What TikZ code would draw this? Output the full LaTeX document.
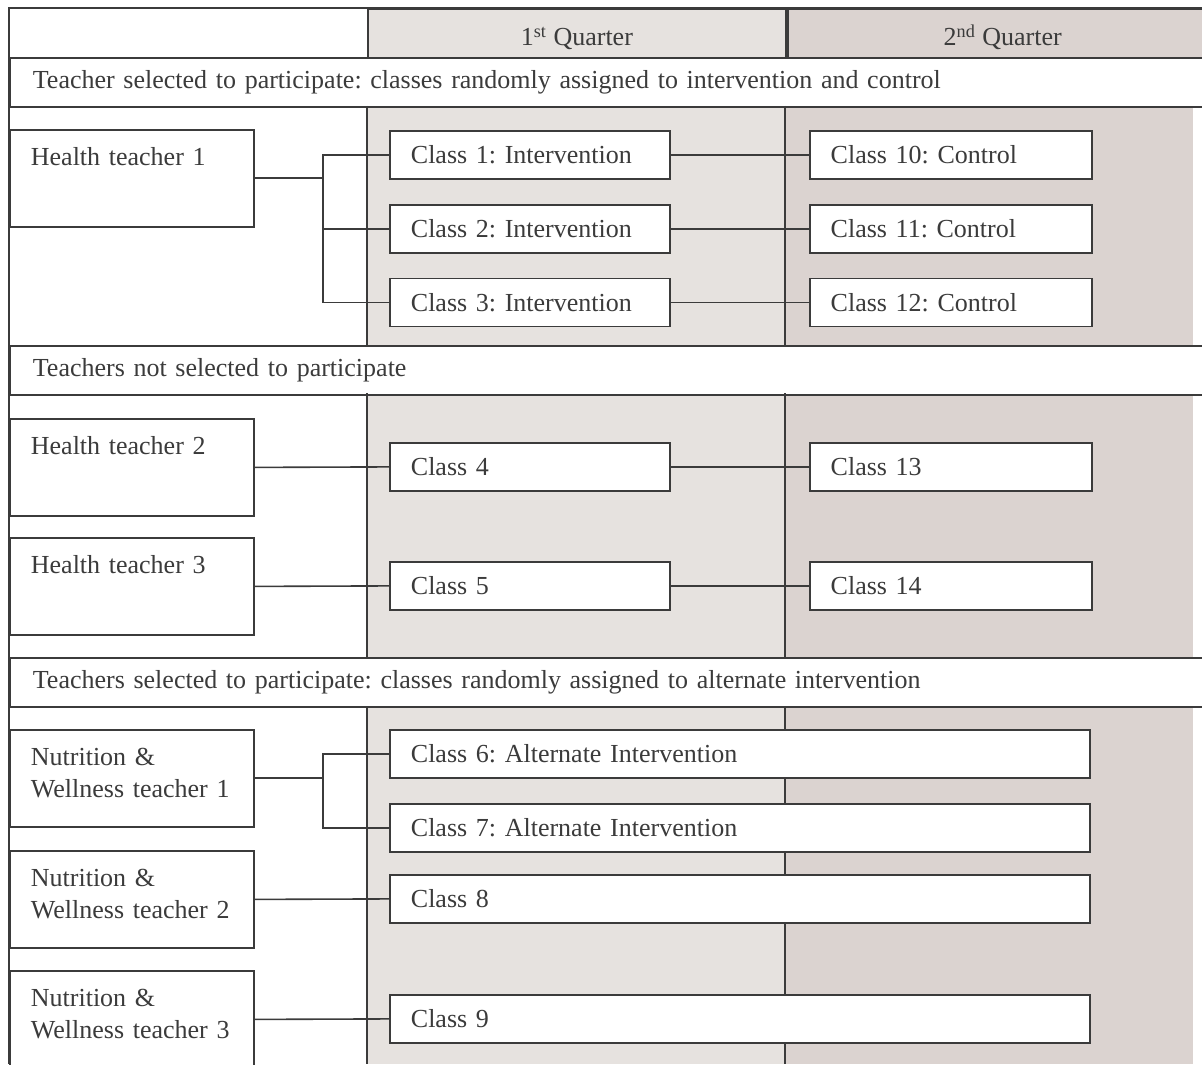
\documentclass[tikz,border=0pt]{standalone}
\usepackage{fontspec}
\setmainfont{Liberation Serif}
\frenchspacing
\usetikzlibrary{positioning,calc}
\definecolor{ink}{HTML}{3B3B3B}
\definecolor{quarterA}{HTML}{E6E2DF}
\definecolor{quarterB}{HTML}{DBD3D0}
\tikzstyle{quarter} = [draw=ink,
						line width=0.9pt,
						minimum height=24.5pt,
						inner sep=0pt,
						text height=18.5pt,
						text depth=6pt,
						anchor=north west]
\tikzstyle{band} = [draw=ink,
					 line width=0.9pt,
					 fill=white,
					 inner xsep=11.5pt,
					 inner ysep=0pt,
					 text width=577pt,
					 text height=15.5pt,
					 text depth=9pt,
					 align=left,
					 anchor=north west]
\tikzstyle{teacher} = [draw=ink,
						line width=0.9pt,
						fill=white,
						inner xsep=10.5pt,
						inner ysep=0pt,
						text width=101pt,
						text height=18pt,
						text depth=30.5pt,
						align=left,
						anchor=north west]
\tikzstyle{cls} = [draw=ink,
				   line width=0.9pt,
				   fill=white,
				   minimum height=24pt,
				   inner xsep=10.5pt,
				   inner ysep=0pt,
				   text width=119pt,
				   align=left,
				   anchor=north west]
\tikzstyle{cls_ctrl} = [cls, text width=120pt]
\tikzstyle{cls_wide} = [cls, text width=329pt]
\tikzstyle{link} = [draw=ink, line width=0.8pt]
\tikzstyle{rule} = [draw=ink, line width=0.9pt]

\begin{document}
\begin{tikzpicture}[x=0.5pt,y=-0.5pt,font=\fontsize{13}{16}\selectfont,text=ink]
	\useasboundingbox (0,0) rectangle (1202,1064);

	% column shading
	\fill[quarterA] (367,8) rectangle (785,1064);
	\fill[quarterB] (785,8) rectangle (1193,1064);

	%%%%%%%%%%
	% HEADER %
	%%%%%%%%%%
	\node[quarter, fill=quarterA, minimum width=209pt] (q1) at (367,8) {1\textsuperscript{st} Quarter};
	\node[quarter, fill=quarterB, minimum width=215pt, right=0pt of q1] (q2) {2\textsuperscript{nd} Quarter};

	%%%%%%%%%
	% BANDS %
	%%%%%%%%%
	\node[band] (sel) at (9,57) {Teacher selected to participate: classes randomly assigned to intervention and control};
	\node[band] (notsel) at (9,345) {Teachers not selected to participate};
	\node[band] (alt) at (9,657) {Teachers selected to participate: classes randomly assigned to alternate intervention};

	\foreach \col in {367,785}{
		\draw[rule] (\col,106) -- (\col,345);
		\draw[rule] (\col,393) -- (\col,657);
		\draw[rule] (\col,706) -- (\col,1064);
	}

	%%%%%%%%%%%%%%%%%%%%
	% HEALTH TEACHER 1 %
	%%%%%%%%%%%%%%%%%%%%
	\node[teacher] (ht1) at (9,129) {Health teacher 1};
	\node[cls] (cl1) at (389,130) {Class 1: Intervention};
	\node[cls, below=12pt of cl1] (cl2) {Class 2: Intervention};
	\node[cls, below=12pt of cl2] (cl3) {Class 3: Intervention};
	\node[cls_ctrl, right=69pt of cl1] (cl10) {Class 10: Control};
	\node[cls_ctrl, right=69pt of cl2] (cl11) {Class 11: Control};
	\node[cls_ctrl, right=69pt of cl3] (cl12) {Class 12: Control};

	\coordinate[right=34pt of ht1.east] (fork1);
	\draw[link, line width=1pt] (ht1.east) -- (fork1);
	\draw[link] (fork1) |- (cl1.west);
	\draw[link] (fork1) |- (cl2.west);
	\draw[link] (fork1) |- (cl3.west);
	\draw[link] (cl1) -- (cl10);
	\draw[link] (cl2) -- (cl11);
	\draw[link] (cl3) -- (cl12);

	%%%%%%%%%%%%%%%%%%%%%%%%
	% HEALTH TEACHERS 2, 3 %
	%%%%%%%%%%%%%%%%%%%%%%%%
	\node[teacher] (ht2) at (9,418) {Health teacher 2};
	\node[teacher] (ht3) at (9,537) {Health teacher 3};
	\node[cls] (cl4) at (389,442) {Class 4};
	\node[cls] (cl5) at (389,561) {Class 5};
	\node[cls_ctrl, right=69pt of cl4] (cl13) {Class 13};
	\node[cls_ctrl, right=69pt of cl5] (cl14) {Class 14};

	\draw[link] (ht2.east) -- (cl4.west);
	\draw[link] (ht3.east) -- (cl5.west);
	\draw[link] (cl4) -- (cl13);
	\draw[link] (cl5) -- (cl14);

	%%%%%%%%%%%%%%%%%%%%%%%%%%%%%%%%%
	% NUTRITION & WELLNESS TEACHERS %
	%%%%%%%%%%%%%%%%%%%%%%%%%%%%%%%%%
	\node[teacher] (nw1) at (9,729) {Nutrition \&\\Wellness teacher 1};
	\node[teacher] (nw2) at (9,850) {Nutrition \&\\Wellness teacher 2};
	\node[teacher] (nw3) at (9,970) {Nutrition \&\\Wellness teacher 3};
	\node[cls_wide] (cl6) at (389,729) {Class 6: Alternate Intervention};
	\node[cls_wide, below=12pt of cl6] (cl7) {Class 7: Alternate Intervention};
	\node[cls_wide] (cl8) at (389,874) {Class 8};
	\node[cls_wide] (cl9) at (389,994) {Class 9};

	\coordinate[right=34pt of nw1.east] (fork2);
	\draw[link, line width=1pt] (nw1.east) -- (fork2);
	\draw[link] (fork2) |- (cl6.west);
	\draw[link] (fork2) |- (cl7.west);
	\draw[link] (nw2.east) -- (cl8.west);
	\draw[link] (nw3.east) -- (cl9.west);

	% outer frame
	\draw[rule, line width=1.1pt] (1202,8) -- (9,8) -- (9,1064);
\end{tikzpicture}
\end{document}
